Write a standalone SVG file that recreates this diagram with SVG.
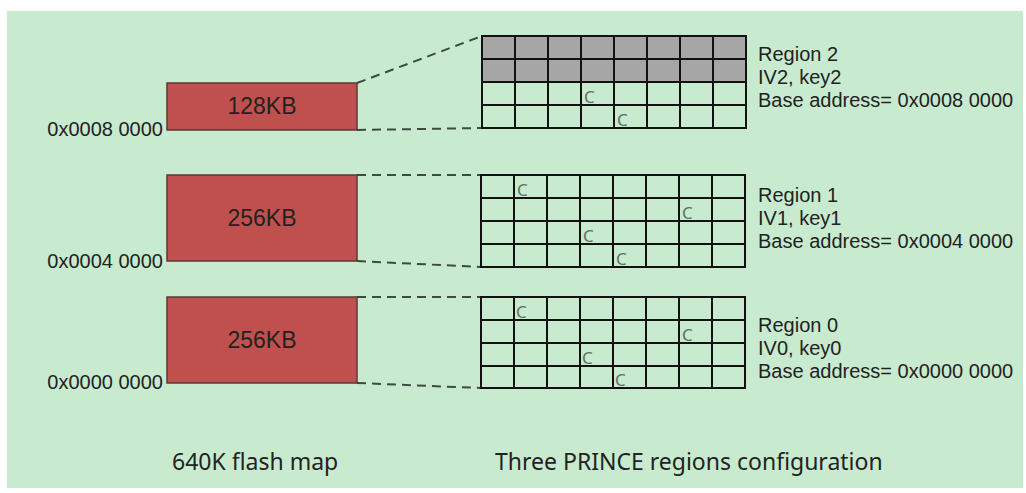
<svg xmlns="http://www.w3.org/2000/svg" width="1026" height="493" viewBox="0 0 1026 493">
<style>
.bg{fill:#c8ebd0}
.blk{fill:#c0504d;stroke:#5a3a36;stroke-width:1.5}
.grid{stroke:#111;stroke-width:2;fill:none}
.gray{fill:#a6a6a6}
.dash{stroke:#3c4a40;stroke-width:2;stroke-dasharray:9 6;fill:none}
.t{font-family:"Liberation Sans",Arial,sans-serif;fill:#222}
.n{font-family:"Noto Sans","Open Sans",sans-serif;fill:#222}
.sz{font-size:23px;text-anchor:middle}
.addr{font-size:20px;text-anchor:end}
.reg{font-size:20px}
.c{font-family:"Noto Sans",sans-serif;font-size:17px;fill:#5d7363}
.cap{font-size:23px}
</style>
<rect x="0" y="0" width="1026" height="493" fill="#ffffff"/>
<rect class="bg" x="7" y="11" width="1016" height="477"/>

<g id="connectors">
<line class="dash" x1="357" y1="83" x2="482" y2="36"/>
<line class="dash" x1="357" y1="130" x2="482" y2="128"/>
<line class="dash" x1="357" y1="175" x2="481" y2="175"/>
<line class="dash" x1="357" y1="261" x2="481" y2="267"/>
<line class="dash" x1="357" y1="297" x2="481" y2="297"/>
<line class="dash" x1="357" y1="383" x2="481" y2="388"/>
</g>

<g id="flash128">
<rect class="blk" x="167" y="83" width="190" height="47"/>
<text class="t sz" x="262" y="114">128KB</text>
<text class="t addr" x="163" y="136">0x0008 0000</text>
</g>
<g id="flash256a">
<rect class="blk" x="167" y="175" width="190" height="86"/>
<text class="t sz" x="262" y="226">256KB</text>
<text class="t addr" x="163" y="268">0x0004 0000</text>
</g>
<g id="flash256b">
<rect class="blk" x="167" y="297" width="190" height="86"/>
<text class="t sz" x="262" y="348">256KB</text>
<text class="t addr" x="163" y="389">0x0000 0000</text>
</g>

<g id="region2">
<rect class="gray" x="482" y="36" width="264" height="46"/>
<path class="grid" d="M482,36H746V128H482Z M482,59H746 M482,82H746 M482,105H746 M515,36V128 M548,36V128 M581,36V128 M614,36V128 M647,36V128 M680,36V128 M713,36V128"/>
<text class="c" x="584" y="103">C</text>
<text class="c" x="617" y="126">C</text>
<text class="t reg" x="758" y="61">Region 2</text>
<text class="t reg" x="758" y="84">IV2, key2</text>
<text class="t reg" x="758" y="107">Base address= 0x0008 0000</text>
</g>

<g id="region1">
<path class="grid" d="M481,175H745V267H481Z M481,198H745 M481,221H745 M481,244H745 M514,175V267 M547,175V267 M580,175V267 M613,175V267 M646,175V267 M679,175V267 M712,175V267"/>
<text class="c" x="517" y="196">C</text>
<text class="c" x="682" y="219">C</text>
<text class="c" x="583" y="242">C</text>
<text class="c" x="616" y="265">C</text>
<text class="t reg" x="758" y="202">Region 1</text>
<text class="t reg" x="758" y="225">IV1, key1</text>
<text class="t reg" x="758" y="248">Base address= 0x0004 0000</text>
</g>

<g id="region0">
<path class="grid" d="M481,297H745V388H481Z M481,320H745 M481,343H745 M481,366H745 M514,297V388 M547,297V388 M580,297V388 M613,297V388 M646,297V388 M679,297V388 M712,297V388"/>
<text class="c" x="516" y="318">C</text>
<text class="c" x="682" y="341">C</text>
<text class="c" x="582" y="364">C</text>
<text class="c" x="615" y="386">C</text>
<text class="t reg" x="758" y="332">Region 0</text>
<text class="t reg" x="758" y="355">IV0, key0</text>
<text class="t reg" x="758" y="378">Base address= 0x0000 0000</text>
</g>

<g id="captions">
<text class="n cap" x="172" y="470">640K flash map</text>
<text class="n cap" x="495" y="470">Three PRINCE regions configuration</text>
</g>
</svg>
